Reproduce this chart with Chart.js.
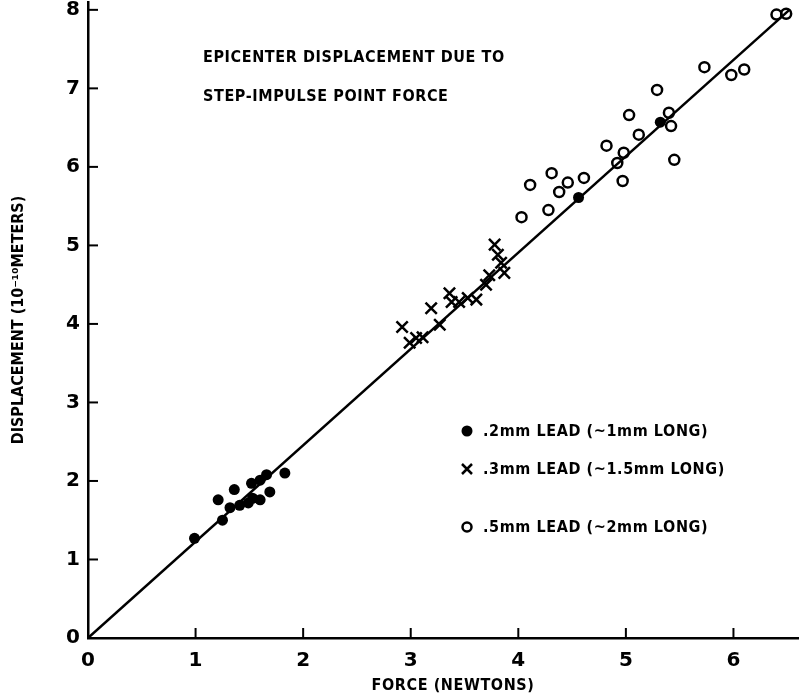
<!DOCTYPE html>
<html>
<head>
<meta charset="utf-8">
<script src="https://cdn.jsdelivr.net/npm/chart.js@4/dist/chart.umd.min.js"></script>
<style>
    html, body { margin: 0; padding: 0; background: #fff; }
    canvas { display: block; }
</style>
</head>
<body>
<canvas id="chart" width="800" height="696"></canvas>
<script>
// Values
const dotForce = [0.99, 1.21, 1.25, 1.32, 1.36, 1.41, 1.49, 1.52, 1.53, 1.60, 1.60, 1.66, 1.69, 1.83, 4.56, 5.32];
const dotDisp  = [1.27, 1.76, 1.50, 1.66, 1.89, 1.69, 1.72, 1.97, 1.78, 2.01, 1.76, 2.08, 1.86, 2.10, 5.61, 6.57];

const crossForce = [2.92, 2.99, 3.05, 3.11, 3.19, 3.27, 3.36, 3.38, 3.45, 3.53, 3.61, 3.70, 3.73, 3.78, 3.81, 3.84, 3.87];
const crossDisp  = [3.96, 3.76, 3.82, 3.83, 4.20, 3.99, 4.39, 4.28, 4.28, 4.33, 4.31, 4.50, 4.62, 5.01, 4.88, 4.78, 4.65];

const ringForce = [4.03, 4.11, 4.28, 4.31, 4.38, 4.46, 4.61, 4.82, 4.92, 4.97, 4.98, 5.03, 5.12, 5.29, 5.40, 5.42, 5.45, 5.73, 5.98, 6.10, 6.40, 6.49];
const ringDisp  = [5.36, 5.77, 5.45, 5.92, 5.68, 5.80, 5.86, 6.27, 6.05, 5.82, 6.18, 6.66, 6.41, 6.98, 6.69, 6.52, 6.09, 7.27, 7.17, 7.24, 7.94, 7.95];

// fitted line through the origin
const fitForce = [0, 6.52];
const fitDisp  = [0, 8.0];

const xTicks = [0, 1, 2, 3, 4, 5, 6];
const yTicks = [0, 1, 2, 3, 4, 5, 6, 7, 8];

const titleLines = ['EPICENTER DISPLACEMENT DUE TO', 'STEP-IMPULSE POINT FORCE'];
const legendLabels = ['.2mm LEAD (~1mm LONG)', '.3mm LEAD (~1.5mm LONG)', '.5mm LEAD (~2mm LONG)'];

const FONT = "'DejaVu Sans Condensed', 'Liberation Sans Narrow', sans-serif";
const TICK_FONT = "'DejaVu Sans', sans-serif";
const INK = '#000';

function toPoints(xs, ys) {
    return xs.map((x, i) => ({ x: x, y: ys[i] }));
}

// inward tick marks like the hand-drawn axes
const innerTicks = {
    id: 'innerTicks',
    afterDraw(chart) {
        const ctx = chart.ctx;
        const xs = chart.scales.x;
        const ys = chart.scales.y;
        const area = chart.chartArea;
        ctx.save();
        ctx.strokeStyle = INK;
        ctx.lineWidth = 2;
        xTicks.forEach(v => {
            if (v === 0) return;
            const px = xs.getPixelForValue(v);
            ctx.beginPath();
            ctx.moveTo(px, area.bottom);
            ctx.lineTo(px, area.bottom - 10);
            ctx.stroke();
        });
        yTicks.forEach(v => {
            if (v === 0) return;
            const py = ys.getPixelForValue(v);
            ctx.beginPath();
            ctx.moveTo(area.left, py);
            ctx.lineTo(area.left + 10, py);
            ctx.stroke();
        });
        ctx.restore();
    }
};

// title block, key and x axis caption
const annotations = {
    id: 'annotations',
    afterDraw(chart) {
        const ctx = chart.ctx;
        ctx.save();
        ctx.fillStyle = INK;
        ctx.textBaseline = 'alphabetic';
        ctx.letterSpacing = '0.6px';
        ctx.font = 'bold 16px ' + FONT;
        ctx.fillText(titleLines[0], 203, 62);
        ctx.fillText(titleLines[1], 203, 101);

        const rows = [431, 469, 527];
        const mx = 467;
        ctx.textBaseline = 'middle';
        legendLabels.forEach((label, i) => {
            const y = rows[i];
            ctx.strokeStyle = INK;
            ctx.lineWidth = 2.5;
            if (i === 0) {
                ctx.beginPath();
                ctx.arc(mx, y, 5.5, 0, Math.PI * 2);
                ctx.fill();
            } else if (i === 1) {
                ctx.beginPath();
                ctx.moveTo(mx - 5, y - 5); ctx.lineTo(mx + 5, y + 5);
                ctx.moveTo(mx + 5, y - 5); ctx.lineTo(mx - 5, y + 5);
                ctx.stroke();
            } else {
                ctx.beginPath();
                ctx.arc(mx, y, 4.5, 0, Math.PI * 2);
                ctx.stroke();
            }
            ctx.fillText(label, 483, y + 1);
        });

        ctx.textAlign = 'center';
        ctx.font = 'bold 16px ' + FONT;
        ctx.fillText('FORCE (NEWTONS)', 453, 686);
        ctx.restore();
    }
};

new Chart(document.getElementById('chart'), {
    type: 'scatter',
    data: {
        datasets: [
            {
                type: 'line',
                data: toPoints(fitForce, fitDisp),
                borderColor: INK,
                borderWidth: 2.5,
                pointRadius: 0,
                fill: false
            },
            {
                data: toPoints(dotForce, dotDisp),
                pointStyle: 'circle',
                pointRadius: 5.5,
                backgroundColor: INK,
                borderColor: INK,
                borderWidth: 0
            },
            {
                data: toPoints(crossForce, crossDisp),
                pointStyle: 'crossRot',
                pointRadius: 8,
                borderColor: INK,
                borderWidth: 2.5
            },
            {
                data: toPoints(ringForce, ringDisp),
                pointStyle: 'circle',
                pointRadius: 5,
                backgroundColor: 'rgba(255,255,255,0)',
                borderColor: INK,
                borderWidth: 2.5
            }
        ]
    },
    options: {
        responsive: false,
        animation: false,
        layout: {
            autoPadding: false,
            padding: { top: 2, right: 2, left: 0, bottom: 0 }
        },
        plugins: {
            legend: { display: false },
            tooltip: { enabled: false }
        },
        scales: {
            x: {
                type: 'linear',
                min: 0,
                max: 6.6,
                afterBuildTicks: (scale) => { scale.ticks = xTicks.map(v => ({ value: v })); },
                afterFit: (scale) => {
                    scale.height = 58;
                    scale.paddingLeft = 0;
                    scale.paddingRight = 0;
                },
                grid: { drawOnChartArea: false, drawTicks: false },
                border: { color: INK, width: 2.5 },
                ticks: {
                    color: INK,
                    padding: 11,
                    font: { family: TICK_FONT, size: 20, weight: 'bold' }
                }
            },
            y: {
                type: 'linear',
                min: 0,
                max: 8.1,
                afterBuildTicks: (scale) => { scale.ticks = yTicks.map(v => ({ value: v })); },
                afterFit: (scale) => {
                    scale.width = 88;
                    scale.paddingTop = 0;
                    scale.paddingBottom = 0;
                },
                grid: { drawOnChartArea: false, drawTicks: false },
                border: { color: INK, width: 2.5 },
                ticks: {
                    color: INK,
                    padding: 8,
                    font: { family: TICK_FONT, size: 20, weight: 'bold' }
                },
                title: {
                    display: true,
                    text: 'DISPLACEMENT (10⁻¹⁰METERS)',
                    color: INK,
                    padding: { top: 9, bottom: 0 },
                    font: { family: FONT, size: 16, weight: 'bold', lineHeight: 1.2 }
                }
            }
        }
    },
    plugins: [innerTicks, annotations]
});
</script>
</body>
</html>
